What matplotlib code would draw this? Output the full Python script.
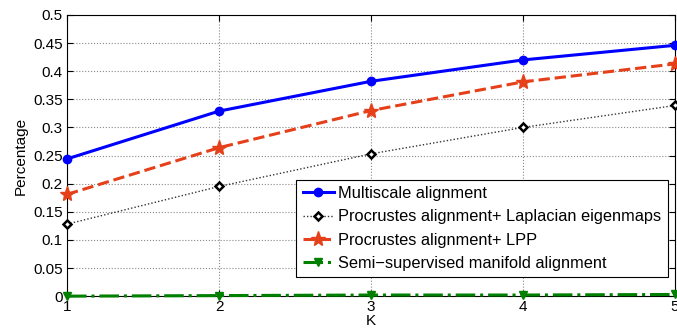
import matplotlib
matplotlib.use("Agg")
import matplotlib.pyplot as plt
import numpy as np

plt.rcParams['font.family'] = ['Liberation Sans', 'DejaVu Sans']

k = [1, 2, 3, 4, 5]
multiscale = [0.244, 0.329, 0.382, 0.420, 0.446]
laplacian = [0.128, 0.195, 0.253, 0.300, 0.339]
lpp = [0.181, 0.264, 0.330, 0.381, 0.413]
semi = [0.000, 0.001, 0.002, 0.002, 0.003]

labels = ["Multiscale alignment",
          "Procrustes alignment+ Laplacian eigenmaps",
          "Procrustes alignment+ LPP",
          "Semi\u2212supervised manifold alignment"]

fig = plt.figure(figsize=(6.77, 3.32), dpi=100)
ax = fig.add_axes([0.099, 0.108, 0.898, 0.847])

ax.plot(k, multiscale, color='#0000ff', lw=2.2, marker='o', ms=6,
        label=labels[0], clip_on=False, zorder=5)
ax.plot(k, laplacian, color='#333333', lw=1.0, ls=(0, (1, 1.5)), marker='D', ms=4.5,
        mfc='white', mec='black', mew=1.8, label=labels[1], clip_on=False, zorder=4)
ax.plot(k, lpp, color='#e5401a', lw=2.2, ls='--', marker='*', ms=11,
        label=labels[2], clip_on=False, zorder=5)
ax.plot(k, semi, color='#008000', lw=2.2, ls='-.', marker='v', ms=6,
        label=labels[3], clip_on=False, zorder=5)

ax.set_xlim(1, 5)
ax.set_ylim(0, 0.5)
ax.set_xticks(k)
ax.set_yticks(np.arange(0, 0.501, 0.05))
ax.set_yticklabels(['0', '0.05', '0.1', '0.15', '0.2', '0.25', '0.3',
                    '0.35', '0.4', '0.45', '0.5'])
ax.tick_params(direction='in', top=True, right=True, labelsize=11, length=4, pad=3)
ax.grid(True, ls=':', color='#888888', lw=0.8)
ax.set_xlabel('K', fontsize=11, labelpad=0)
ax.set_ylabel('Percentage', fontsize=11, labelpad=4)

leg = ax.legend(loc='lower right', bbox_to_anchor=(0.988, 0.067), fontsize=11.8,
                fancybox=False, edgecolor='black', framealpha=1,
                handlelength=1.9, handletextpad=0.25, borderpad=0.4,
                labelspacing=0.5, borderaxespad=0)
leg.get_frame().set_linewidth(0.8)

fig.savefig('out.png', dpi=100)
